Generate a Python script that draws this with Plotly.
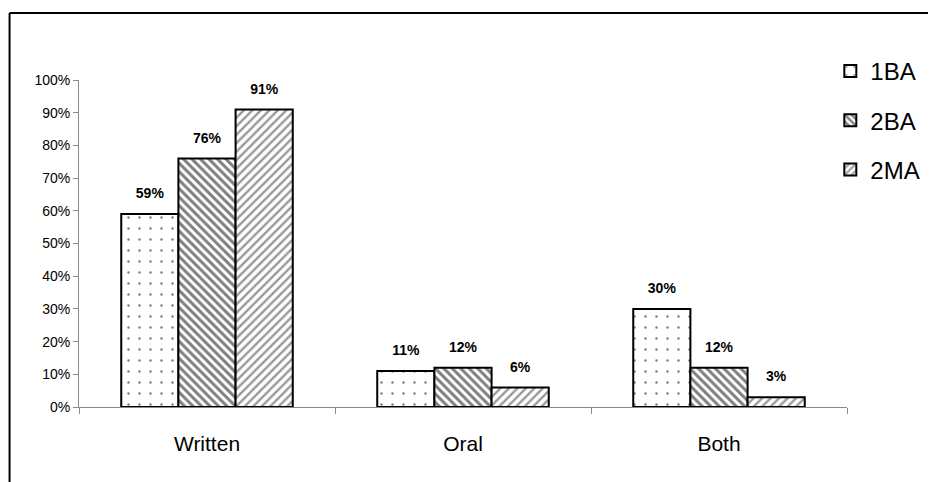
import plotly.graph_objects as go

categories = ["Written", "Oral", "Both"]
series_names = ["1BA", "2BA", "2MA"]
values_1ba = [0.59, 0.11, 0.30]
values_2ba = [0.76, 0.12, 0.12]
values_2ma = [0.91, 0.06, 0.03]
labels_1ba = ["59%", "11%", "30%"]
labels_2ba = ["76%", "12%", "12%"]
labels_2ma = ["91%", "6%", "3%"]
y_tick_vals = [0, 0.1, 0.2, 0.3, 0.4, 0.5, 0.6, 0.7, 0.8, 0.9, 1.0]
y_tick_text = ["0%", "10%", "20%", "30%", "40%", "50%", "60%", "70%", "80%", "90%", "100%"]

all_values = [values_1ba, values_2ba, values_2ma]
all_labels = [labels_1ba, labels_2ba, labels_2ma]
patterns = [
    dict(shape=".", size=11, solidity=0.04, fgcolor="black", bgcolor="white"),
    dict(shape="\\", size=6, solidity=0.5, fgcolor="black", bgcolor="white"),
    dict(shape="/", size=6, solidity=0.4, fgcolor="#333333", bgcolor="white"),
]

FONT = "Liberation Sans, Arial, sans-serif"
GAP = 0.33

fig = go.Figure()
for i, name in enumerate(series_names):
    fig.add_trace(go.Bar(
        x=categories, y=all_values[i], name=name,
        offsetgroup=str(i), legendgroup=name,
        marker=dict(color="white", line=dict(color="black", width=2),
                    pattern=patterns[i]),
    ))
for i, name in enumerate(series_names):
    fig.add_trace(go.Scatter(
        x=categories, y=all_values[i], mode="markers+text",
        text=["<b>%s</b>" % t for t in all_labels[i]],
        textposition="top center",
        textfont=dict(family=FONT, size=14, color="black"),
        marker=dict(size=18, opacity=0),
        offsetgroup=str(i), showlegend=False, hoverinfo="skip",
        cliponaxis=False,
    ))

fig.update_layout(
    width=928, height=474,
    margin=dict(l=71, r=88, t=72, b=75),
    paper_bgcolor="white", plot_bgcolor="white",
    barmode="group", bargap=GAP, bargroupgap=0,
    scattermode="group", scattergap=GAP,
    font=dict(family=FONT, color="black"),
    showlegend=True,
    legend=dict(x=0.977, xanchor="left", y=1.095, yanchor="top",
                font=dict(family=FONT, size=24, color="black"),
                tracegroupgap=15, bgcolor="rgba(0,0,0,0)"),
    xaxis=dict(showline=True, linecolor="#888888", linewidth=1,
               ticks="outside", tickson="boundaries", ticklen=6,
               tickcolor="#888888", showgrid=False,
               tickfont=dict(family=FONT, size=21, color="black"),
               ticklabelstandoff=18),
    yaxis=dict(range=[0, 1], tickvals=y_tick_vals, ticktext=y_tick_text,
               showline=True, linecolor="#888888", linewidth=1,
               ticks="outside", ticklen=5, tickcolor="#888888",
               showgrid=False, zeroline=False,
               tickfont=dict(family=FONT, size=14, color="black")),
    shapes=[
        dict(type="line", xref="paper", yref="paper",
             x0=-0.0904, x1=1.2, y0=1.2049, y1=1.2049,
             line=dict(color="black", width=2)),
        dict(type="line", xref="paper", yref="paper",
             x0=-0.0904, x1=-0.0904, y0=1.2049, y1=-0.3,
             line=dict(color="black", width=2)),
    ],
)

fig.write_html("out.html")
